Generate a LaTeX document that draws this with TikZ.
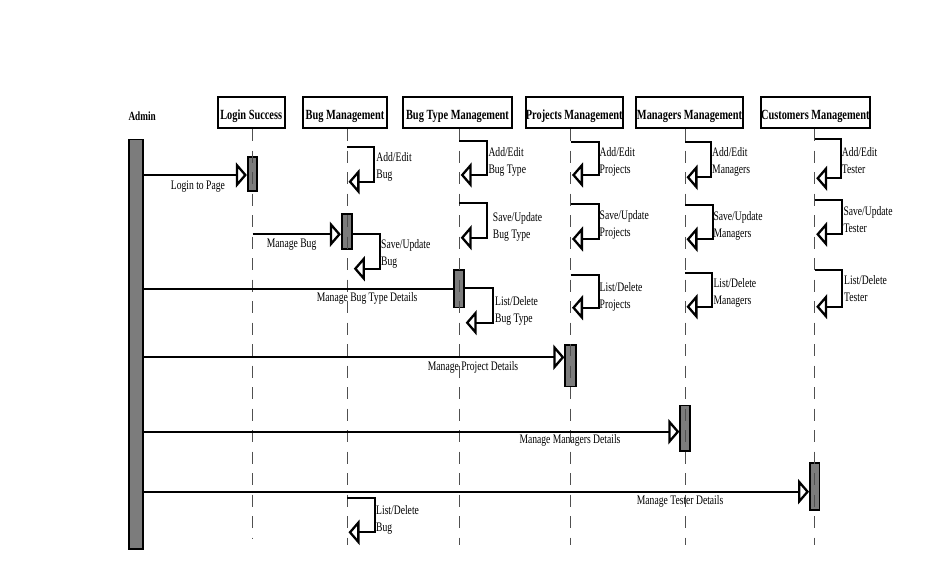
\documentclass[tikz,border=0pt]{standalone}
\usepackage{fontspec}
\setmainfont{Liberation Serif}[FakeStretch=0.74]
\usetikzlibrary{arrows.meta}

\definecolor{barfill}{RGB}{124,124,124}
\definecolor{dashgray}{RGB}{80,80,80}

\tikzset{
  hollowhead/.tip={Triangle[length=11pt,width=25pt,fill=white]},
  hdr/.style={draw, line width=2pt, inner sep=0pt, minimum height=31pt,
    text height=14.8pt, text depth=0pt,
    font=\bfseries\fontsize{14}{16}\selectfont},
  actbar/.style={draw, line width=1.7pt, fill=barfill, inner sep=0pt},
  life/.style={draw=dashgray, line width=0.9pt, dash pattern=on 12pt off 9.5pt},
  msg/.style={line width=2.3pt},
  msglbl/.style={inner sep=0pt, anchor=base west, font=\fontsize{13}{17}\selectfont},
  lbl2/.style={inner sep=0pt, anchor=north west, align=left,
    font=\fontsize{13}{17}\selectfont},
}

% self call: name, x0, ytop, xright, ybottom, text x, first baseline, line 1, line 2
\newcommand\selfcall[9]{%
  \coordinate (#1) at (#2,#3);
  \draw[msg,-hollowhead] (#1) -| (#4,#5) -- ({#2+1.5},#5);
  \node[lbl2] (#1-lbl) at (#6,{#7-11.9}) {\strut #8\\\strut #9};
}

\begin{document}
\begin{tikzpicture}[x=1pt,y=-1pt]
\useasboundingbox (0,0) rectangle (951,586);

% actor and object headers
\node[inner sep=0pt, anchor=base west, font=\bfseries\fontsize{12.5}{14}\selectfont]
  (adminlbl) at (128.3,121) {Admin};
\node[hdr, minimum width=67pt]    (ls) at (251.2,112.5) {Login Success};
\node[hdr, minimum width=84.6pt]  (bm) at (345,112.5)   {Bug Management};
\node[hdr, minimum width=109.6pt] (bt) at (457.5,112.5) {Bug Type Management};
\node[hdr, minimum width=96.3pt]  (pj) at (574.2,112.5) {Projects Management};
\node[hdr, minimum width=107pt]   (mg) at (689.5,112.5) {Managers Management};
\node[hdr, minimum width=108.7pt] (cu) at (815.3,112.5) {Customers Management};

% activation bars
\node[actbar, minimum width=14pt,  minimum height=409.7pt] (adminbar) at (136.3,344.2) {};
\node[actbar, minimum width=9.5pt, minimum height=34.5pt]  (lsbar) at (252.5,174) {};
\node[actbar, minimum width=10.5pt,minimum height=35.5pt]  (bmbar) at (347,231.5) {};
\node[actbar, minimum width=10pt,  minimum height=37.5pt]  (btbar) at (459.2,288.8) {};
\node[actbar, minimum width=10.5pt,minimum height=41.5pt]  (pjbar) at (570.5,365.7) {};
\node[actbar, minimum width=9.5pt, minimum height=45.5pt]  (mgbar) at (685,428.2) {};
\node[actbar, minimum width=9.5pt, minimum height=47.5pt]  (cubar) at (814.7,486.5) {};

% lifelines
\draw[life] (ls.south -| lsbar) -- (lsbar |- 0,538);
\draw[life] (bm.south -| bmbar) -- (bmbar |- 0,545);
\draw[life] (bt.south -| btbar) -- (btbar |- 0,545);
\draw[life] (pj.south -| pjbar) -- (pjbar |- 0,545);
\draw[life] (mg.south -| mgbar) -- (mgbar |- 0,545);
\draw[life] (cu.south -| cubar) -- (cubar |- 0,545);

% messages
\draw[msg,-hollowhead] (adminbar.east |- 0,175) -- (lsbar.west |- 0,175);
\node[msglbl] (m1) at (170.7,189) {Login to Page};

\draw[msg,-hollowhead] (lsbar.center |- 0,234.3) -- (bmbar.west |- 0,234.3);
\node[msglbl] (m2) at (266.7,247.3) {Manage Bug};

\draw[msg] (adminbar.east |- 0,289) -- (btbar.west |- 0,289);
\node[msglbl] (m3) at (316.7,301) {Manage Bug Type Details};

\draw[msg,-hollowhead] (adminbar.east |- 0,357.3) -- (pjbar.west |- 0,357.3);
\node[msglbl] (m4) at (427.7,370) {Manage Project Details};

\draw[msg,-hollowhead] (adminbar.east |- 0,431.7) -- (mgbar.west |- 0,431.7);
\node[msglbl] (m5) at (519.3,443.3) {Manage Managers Details};

\draw[msg,-hollowhead] (adminbar.east |- 0,491.7) -- (cubar.west |- 0,491.7);
\node[msglbl] (m6) at (636.7,504.3) {Manage Tester Details};

% self calls on Bug Management
\selfcall{bma}{347}{147.3}{374.3}{181.7}{376.2}{161.5}{Add/Edit}{Bug}
\selfcall{bms}{352.3}{234.3}{380}{268.7}{381}{248.5}{Save/Update}{Bug}
\selfcall{bml}{347}{498.3}{375}{532.3}{376}{513.8}{List/Delete}{Bug}

% self calls on Bug Type Management
\selfcall{bta}{459.2}{140.7}{487.3}{175}{488.3}{156}{Add/Edit}{Bug Type}
\selfcall{bts}{459.2}{203.3}{487.3}{237.7}{492.7}{221.7}{Save/Update}{Bug Type}
\selfcall{btl}{464.2}{288.3}{493.3}{322.7}{495}{305}{List/Delete}{Bug Type}

% self calls on Projects Management
\selfcall{pja}{570.5}{141.7}{599}{175}{599.5}{156.3}{Add/Edit}{Projects}
\selfcall{pjs}{570.5}{204.3}{599}{239}{599.5}{219}{Save/Update}{Projects}
\selfcall{pjl}{570.5}{275}{599}{307.7}{599.5}{291.7}{List/Delete}{Projects}

% self calls on Managers Management
\selfcall{mga}{685}{142.3}{711}{177.3}{712}{156.7}{Add/Edit}{Managers}
\selfcall{mgs}{685}{205}{712.7}{239.3}{713.3}{220}{Save/Update}{Managers}
\selfcall{mgl}{685}{272.7}{712}{306.7}{713.3}{287.7}{List/Delete}{Managers}

% self calls on Customers Management
\selfcall{cua}{814.7}{139}{840.7}{178.3}{841.7}{156.7}{Add/Edit}{Tester}
\selfcall{cus}{814.7}{200}{842.3}{234.3}{843.3}{215.7}{Save/Update}{Tester}
\selfcall{cul}{814.7}{270}{841.7}{306.7}{844}{284.3}{List/Delete}{Tester}
\end{tikzpicture}
\end{document}
